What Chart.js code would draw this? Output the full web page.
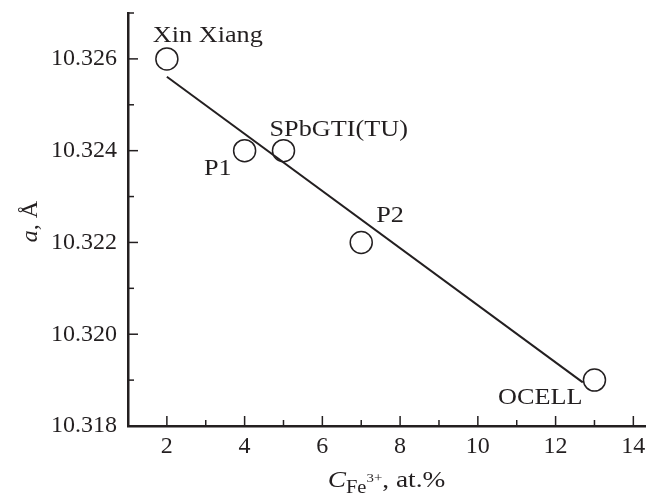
<!DOCTYPE html>
<html>
<head>
<meta charset="utf-8">
<script src="https://cdn.jsdelivr.net/npm/chart.js@4/dist/chart.umd.min.js"></script>
<style>
  html, body { margin: 0; padding: 0; background: #fff; }
  #wrap { width: 660px; height: 498px; }
</style>
</head>
<body>
<div id="wrap"><canvas id="chart"></canvas></div>
<script>
// Данные с картинки
const sampleNames = ['Xin Xiang', 'P1', 'SPbGTI(TU)', 'P2', 'OCELL'];
const feContent = [2, 4, 5, 7, 13];
const latticeA = [10.326, 10.324, 10.324, 10.322, 10.319];
// линия аппроксимации (концы)
const fitX = [2, 12.7];
const fitY = [10.32561, 10.31895];

const FONT = "'Liberation Serif', 'Times New Roman', serif";
const INK = '#231f20';
const STRETCH = 1.14; // текст на оригинале немного растянут по горизонтали

// смещения подписей относительно точек
const labelPlace = {
    'Xin Xiang': { dx: -14, dy: -17, align: 'left' },
    'P1': { dx: -13, dy: 24, align: 'right' },
    'SPbGTI(TU)': { dx: -14, dy: -15, align: 'left' },
    'P2': { dx: 15, dy: -20, align: 'left' },
    'OCELL': { dx: -12, dy: 24, align: 'right' }
};

const isMult = (v, k) => Math.abs(v * k - Math.round(v * k)) < 1e-6;

function wideText(ctx, text, x, y) {
    ctx.save();
    ctx.translate(x, y);
    ctx.scale(STRETCH, 1);
    ctx.fillText(text, 0, 0);
    ctx.restore();
}

// тики внутрь, подписи точек, заголовки осей
const decor = {
    id: 'decor',
    afterDraw(chart) {
        const ctx = chart.ctx;
        const xs = chart.scales.x, ys = chart.scales.y;
        const area = chart.chartArea;
        ctx.save();
        ctx.strokeStyle = INK;
        ctx.lineWidth = 1.5;
        xs.ticks.forEach(t => {
            if (!isMult(t.value, 1) || t.value <= xs.min) return;
            const px = xs.getPixelForValue(t.value);
            const len = Math.round(t.value) % 2 === 0 ? 10 : 6;
            ctx.beginPath();
            ctx.moveTo(px, area.bottom);
            ctx.lineTo(px, area.bottom - len);
            ctx.stroke();
        });
        ys.ticks.forEach(t => {
            if (!isMult(t.value, 1000) || t.value <= ys.min + 1e-9) return;
            const py = ys.getPixelForValue(t.value);
            const len = Math.round(t.value * 1000) % 2 === 0 ? 10 : 6;
            ctx.beginPath();
            ctx.moveTo(area.left, py);
            ctx.lineTo(area.left + len, py);
            ctx.stroke();
        });

        // подписи образцов
        ctx.fillStyle = INK;
        ctx.font = '23px ' + FONT;
        ctx.textBaseline = 'alphabetic';
        sampleNames.forEach((name, i) => {
            const p = labelPlace[name];
            ctx.textAlign = p.align;
            wideText(ctx, name, xs.getPixelForValue(feContent[i]) + p.dx, ys.getPixelForValue(latticeA[i]) + p.dy);
        });

        // подпись оси X: C_{Fe^{3+}}, at.%
        ctx.textAlign = 'left';
        const parts = [
            { t: 'C', f: 'italic 24px ' + FONT, dy: 0 },
            { t: 'Fe', f: '18px ' + FONT, dy: 6 },
            { t: '3+', f: '13px ' + FONT, dy: -5 },
            { t: ', at.%', f: '24px ' + FONT, dy: 0 }
        ];
        let total = 0;
        parts.forEach(p => { ctx.font = p.f; p.w = ctx.measureText(p.t).width * STRETCH; total += p.w; });
        let x = (area.left + area.right) / 2 - total / 2;
        const base = 487;
        parts.forEach(p => {
            ctx.font = p.f;
            wideText(ctx, p.t, x, base + p.dy);
            x += p.w;
        });

        // подпись оси Y: a, Å
        ctx.translate(37, (area.top + area.bottom) / 2 + 2);
        ctx.rotate(-Math.PI / 2);
        ctx.font = 'italic 24px ' + FONT;
        const wa = ctx.measureText('a').width;
        ctx.font = '24px ' + FONT;
        const wr = ctx.measureText(', Å').width;
        const yx = -(wa + wr) / 2;
        ctx.font = 'italic 24px ' + FONT;
        ctx.fillText('a', yx, 0);
        ctx.font = '24px ' + FONT;
        ctx.fillText(', Å', yx + wa, 0);
        ctx.restore();
    }
};

new Chart(document.getElementById('chart'), {
    type: 'scatter',
    data: {
        datasets: [
            {
                label: 'fit',
                data: fitX.map((x, i) => ({ x: x, y: fitY[i] })),
                showLine: true,
                borderColor: INK,
                borderWidth: 2,
                pointRadius: 0,
                fill: false
            },
            {
                label: 'samples',
                data: feContent.map((x, i) => ({ x: x, y: latticeA[i] })),
                pointRadius: 11,
                pointBorderWidth: 1.5,
                pointBorderColor: INK,
                pointBackgroundColor: '#fff'
            }
        ]
    },
    options: {
        responsive: true,
        maintainAspectRatio: false,
        animation: false,
        events: [],
        layout: { padding: { left: 0, right: 15, top: 13, bottom: 0 } },
        plugins: { legend: { display: false }, tooltip: { enabled: false } },
        scales: {
            x: {
                type: 'linear',
                min: 1,
                max: 14.3,
                grid: { display: false, drawTicks: false, tickLength: 0 },
                border: { display: true, color: INK, width: 2.5 },
                ticks: {
                    stepSize: 1,
                    includeBounds: false,
                    autoSkip: false,
                    maxRotation: 0,
                    padding: 6,
                    color: INK,
                    font: { family: FONT, size: 24 },
                    callback: v => (isMult(v, 1) && Math.round(v) % 2 === 0) ? String(Math.round(v)) : ''
                },
                afterFit: s => { s.height = 72; s.paddingLeft = 0; s.paddingRight = 0; }
            },
            y: {
                type: 'linear',
                min: 10.318,
                max: 10.327,
                grid: { display: false, drawTicks: false, tickLength: 0 },
                border: { display: true, color: INK, width: 2.5 },
                ticks: {
                    stepSize: 0.001,
                    autoSkip: false,
                    padding: 11,
                    color: INK,
                    font: { family: FONT, size: 24 },
                    callback: v => (isMult(v, 1000) && Math.round(v * 1000) % 2 === 0) ? v.toFixed(3) : ''
                },
                afterFit: s => { s.width = 128; s.paddingTop = 0; s.paddingBottom = 0; }
            }
        }
    },
    plugins: [decor]
});
</script>
</body>
</html>
